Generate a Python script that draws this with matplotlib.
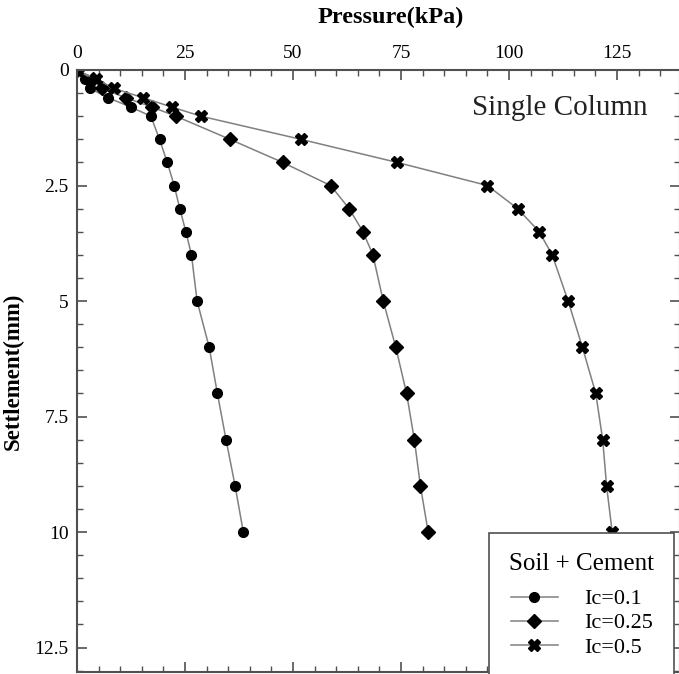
import matplotlib
matplotlib.use("Agg")
import matplotlib.pyplot as plt
from matplotlib.ticker import MultipleLocator

plt.rcParams['font.family'] = ['Liberation Serif', 'DejaVu Serif']

settlement = [0, 0.2, 0.4, 0.6, 0.8, 1.0, 1.5, 2, 2.5, 3, 3.5, 4, 5, 6, 7, 8, 9, 10]
p_ic01 = [0, 1.8, 3.0, 7.2, 12.4, 17.1, 19.1, 20.9, 22.5, 23.8, 25.2, 26.5, 27.8, 30.6, 32.5, 34.5, 36.6, 38.5]
p_ic025 = [0, 3.8, 5.7, 11.3, 17.3, 22.9, 35.4, 47.6, 58.7, 63.0, 66.2, 68.5, 70.9, 73.8, 76.3, 78.1, 79.5, 81.3]
p_ic05 = [0, 4.5, 8.6, 15.3, 21.9, 28.7, 51.8, 74.1, 95.0, 102.0, 107.0, 110.0, 113.7, 117.0, 120.1, 121.7, 122.6, 123.9]
labels = ['Ic=0.1', 'Ic=0.25', 'Ic=0.5']
x_ticks = [0, 25, 50, 75, 100, 125]
y_ticks = [0, 2.5, 5, 7.5, 10, 12.5]
y_ticklabels = ['0', '2.5', '5', '7.5', '10', '12.5']

fig = plt.figure(figsize=(6.79, 6.74), dpi=100)
ax = fig.add_axes([77/679, 1-672/674, 603/679, 602/674])

line_kw = dict(color='#808080', lw=1.1, markerfacecolor='black', markeredgecolor='black')
ax.plot(p_ic01, settlement, marker='o', ms=7, label=labels[0], **line_kw)
ax.plot(p_ic025, settlement, marker='D', ms=7, label=labels[1], **line_kw)
ax.plot(p_ic05, settlement, marker='X', ms=8, label=labels[2], **line_kw)

ax.set_xlim(0, 139.6)
ax.set_ylim(13.03, 0)
ax.xaxis.set_ticks_position('top')
ax.xaxis.set_label_position('top')
ax.set_xticks(x_ticks)
ax.set_xticklabels([str(v) for v in x_ticks])
ax.set_yticks(y_ticks)
ax.set_yticklabels(y_ticklabels)
ax.xaxis.set_minor_locator(MultipleLocator(5))
ax.yaxis.set_minor_locator(MultipleLocator(0.5))
ax.tick_params(which='both', direction='in', top=True, bottom=True, left=True, right=True,
               color='#505050', labelsize=14)
ax.tick_params(which='major', length=7, width=1.2, pad=6)
ax.tick_params(which='minor', length=4, width=1.0)
for s in ax.spines.values():
    s.set_color('#505050')
    s.set_linewidth(1.5)

ax.set_xlabel('Pressure(kPa)', fontsize=17.5, fontweight='bold')
ax.xaxis.set_label_coords(0.52, 1.078)
ax.set_ylabel('Settlement(mm)', fontsize=16.5, fontweight='bold')
ax.yaxis.set_label_coords(-0.088, 0.5)

ax.text(0.947, 0.937, 'Single Column', transform=ax.transAxes, ha='right', va='center',
        fontsize=21, color='#222222')

leg = ax.legend(title='Soil + Cement', loc='upper left', bbox_to_anchor=(0.684, 0.231),
                borderaxespad=0, fontsize=16, title_fontsize=18, fancybox=False,
                frameon=True, handlelength=2.1, handletextpad=1.2, labelspacing=0.16,
                borderpad=0.9, framealpha=1)
leg.get_frame().set_edgecolor('#505050')
leg.get_frame().set_linewidth(1.2)
try:
    leg._legend_box.sep = 10
except Exception:
    pass

fig.savefig('out.png', dpi=100)
